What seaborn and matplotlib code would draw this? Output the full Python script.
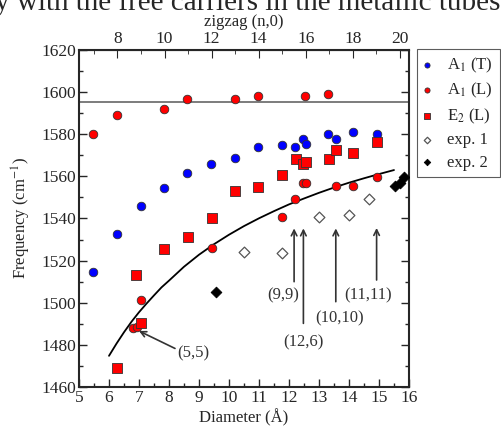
import numpy as np
import pandas as pd
import matplotlib
matplotlib.use("Agg")
import matplotlib.pyplot as plt
from matplotlib.ticker import MultipleLocator
import seaborn as sns

sns.set_style("ticks")
plt.rcParams['font.family'] = ['Liberation Serif', 'DejaVu Serif']
plt.rcParams['mathtext.fontset'] = 'stix'

# ---- data ----
a1t_x = [5.48, 6.26, 7.06, 7.83, 8.60, 9.41, 10.19, 10.97, 11.76, 12.20, 12.48, 12.56, 13.31, 13.57, 14.12, 14.92]
a1t_y = [1514.4, 1532.5, 1546.0, 1554.3, 1561.4, 1565.9, 1568.9, 1574.1, 1575.0, 1574.1, 1577.7, 1575.2, 1580.0, 1577.7, 1581.2, 1580.0]

a1l_x = [5.48, 6.26, 7.83, 8.60, 10.19, 10.97, 12.53, 13.31,
         6.80, 6.92, 7.06, 9.42, 11.76, 12.20, 12.46, 12.56, 13.57, 14.12, 14.92]
a1l_y = [1580.1, 1589.1, 1592.0, 1596.6, 1596.6, 1598.3, 1598.3, 1599.1,
         1488.2, 1488.5, 1501.3, 1525.8, 1540.5, 1549.2, 1557.0, 1557.0, 1555.4, 1555.4, 1559.9]

e2_x = [6.28, 6.89, 7.06, 7.84, 8.62, 9.42, 10.19, 10.98, 11.76, 12.23, 12.48, 12.55, 13.33, 13.57, 14.12, 14.92]
e2_y = [1469.2, 1513.2, 1490.2, 1525.4, 1531.2, 1540.4, 1553.2, 1555.1, 1560.6, 1568.2, 1565.9, 1567.0, 1568.1, 1572.5, 1570.9, 1576.2]

exp1_x = [10.51, 11.76, 13.01, 14.01, 14.67]
exp1_y = [1523.9, 1523.5, 1540.6, 1541.7, 1549.2]

exp2_x = [9.57, 15.55, 15.70, 15.83]
exp2_y = [1505.2, 1555.5, 1557.0, 1559.8]

curve_x = [6.0, 6.25, 6.5, 6.75, 7.0, 7.25, 7.5, 7.75, 8.0, 8.5, 9.0, 9.5, 10.0, 10.5,
           11.0, 11.5, 12.0, 12.5, 13.0, 13.5, 14.0, 14.5, 15.0, 15.5]
curve_y = [1474.8, 1480.6, 1486.0, 1491.0, 1495.5, 1499.6, 1503.5, 1507.3, 1510.5, 1517.1,
           1522.8, 1527.8, 1532.3, 1536.4, 1540.1, 1543.5, 1546.7, 1549.5, 1552.2, 1554.7,
           1557.0, 1559.1, 1561.1, 1563.0]

hline_y = 1595.5

labels = ["(5,5)", "(9,9)", "(12,6)", "(10,10)", "(11,11)"]
arrow_tip = [(7.0, 1486.6), (12.17, 1535.3), (12.48, 1535.3), (13.56, 1535.3), (14.92, 1535.5)]
arrow_tail = [(8.2, 1478.3), (12.17, 1510.0), (12.48, 1490.2), (13.56, 1500.5), (14.92, 1510.8)]
label_pos = [(8.81, 1476.0), (11.81, 1503.5), (12.48, 1481.0), (13.70, 1492.6), (14.64, 1503.5)]

# ---- figure ----
fig = plt.figure(figsize=(5.02, 4.30), dpi=100)
ax = fig.add_axes([79/502, 1-387/430, 330/502, 337/430])

edge = '#333333'
sns.scatterplot(x=a1t_x, y=a1t_y, ax=ax, color='#0000ff', marker='o', s=38,
                edgecolor=edge, linewidth=0.6, label='A$_1$ (T)', zorder=3)
sns.scatterplot(x=a1l_x, y=a1l_y, ax=ax, color='#ff0000', marker='o', s=38,
                edgecolor=edge, linewidth=0.6, label='A$_1$ (L)', zorder=3)
sns.scatterplot(x=e2_x, y=e2_y, ax=ax, color='#ff0000', marker='s', s=44,
                edgecolor=edge, linewidth=0.6, label='E$_2$ (L)', zorder=3)
sns.scatterplot(x=exp1_x, y=exp1_y, ax=ax, facecolor='white', marker='D', s=30,
                edgecolor='#555555', linewidth=0.9, label='exp. 1', zorder=3)
sns.scatterplot(x=exp2_x, y=exp2_y, ax=ax, color='black', marker='D', s=30,
                edgecolor='black', linewidth=0.6, label='exp. 2', zorder=3)
sns.lineplot(x=curve_x, y=curve_y, ax=ax, color='black', lw=1.3, zorder=2)
ax.axhline(hline_y, color='#666666', lw=1.2, zorder=1)

for lab, tip, tail, pos in zip(labels, arrow_tip, arrow_tail, label_pos):
    ax.annotate('', xy=tip, xytext=tail,
                arrowprops=dict(arrowstyle='->', color='#333333', lw=1.2,
                                shrinkA=0, shrinkB=0, mutation_scale=10))
    ax.text(pos[0], pos[1], lab, ha='center', va='center', fontsize=12, color='#333333')

ax.set_xlim(5, 16)
ax.set_ylim(1460, 1620)
ax.xaxis.set_major_locator(MultipleLocator(1))
ax.xaxis.set_minor_locator(MultipleLocator(0.5))
ax.yaxis.set_major_locator(MultipleLocator(20))
ax.yaxis.set_minor_locator(MultipleLocator(10))
ax.tick_params(which='both', direction='in', right=True, labelsize=12.5, width=1, pad=2)
ax.tick_params(which='major', length=6)
ax.tick_params(which='minor', length=3)
for sp in ax.spines.values():
    sp.set_linewidth(1.5)
    sp.set_visible(True)

ax.set_xlabel('Diameter (Å)', fontsize=12, labelpad=2)
ax.set_ylabel('Frequency (cm$^{-1}$)', fontsize=12, labelpad=6)

k = 0.785
sec = ax.secondary_xaxis('top', functions=(lambda d: d / k, lambda n: n * k))
sec.xaxis.set_major_locator(MultipleLocator(2))
sec.xaxis.set_minor_locator(MultipleLocator(1))
sec.tick_params(which='both', direction='in', labelsize=12.5, pad=2)
sec.tick_params(which='major', length=6)
sec.tick_params(which='minor', length=3)
sec.set_xlabel('zigzag (n,0)', fontsize=12, labelpad=4)

leg = ax.legend(loc='upper left', bbox_to_anchor=(1.025, 1.003), fontsize=12,
                frameon=True, fancybox=False, edgecolor='#333333', markerscale=0.6,
                handletextpad=1.0, borderpad=0.4, labelspacing=0.38, handlelength=0.4,
                borderaxespad=0)
leg.get_frame().set_linewidth(0.8)

fig.text(0.5, 1 - 10/430, 'y with the free carriers in the metallic tubes.',
         ha='center', va='baseline', fontsize=21)

fig.savefig('out.png', dpi=100)
